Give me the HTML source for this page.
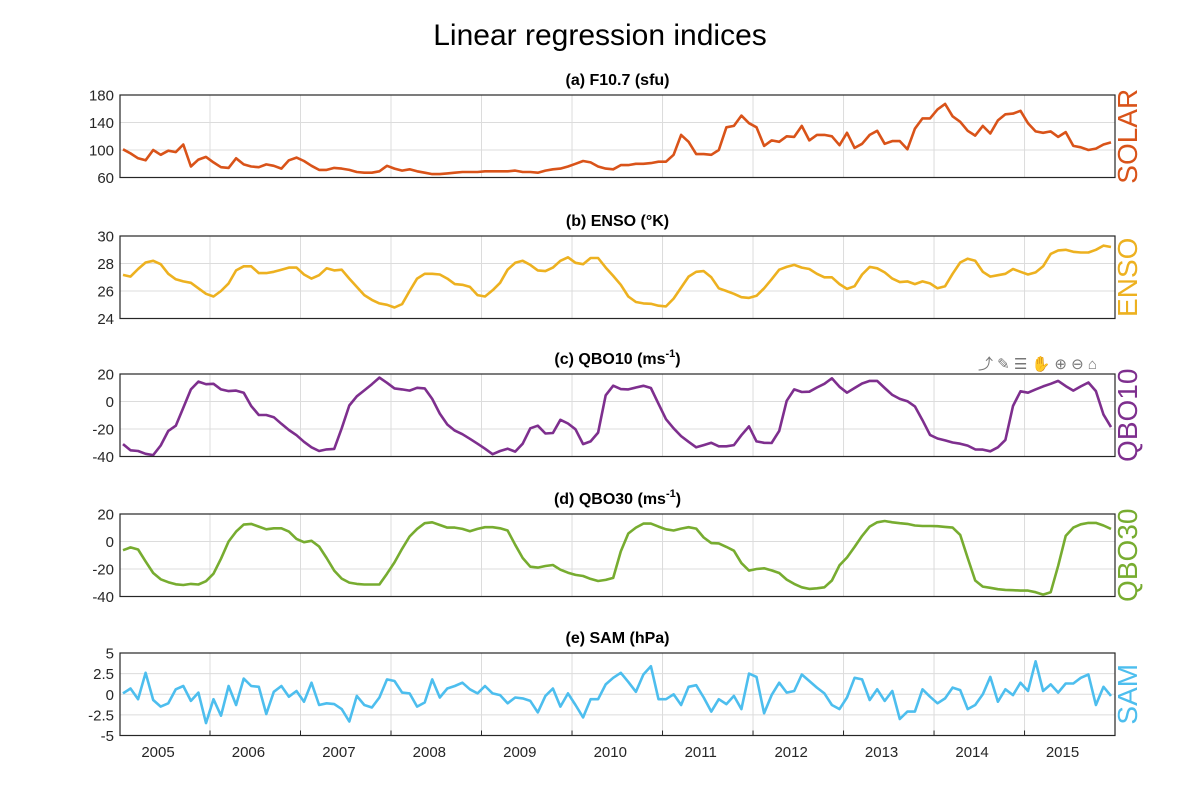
<!DOCTYPE html>
<html><head><meta charset="utf-8"><style>
html,body{margin:0;padding:0;background:#fff;}
svg{display:block;font-family:"Liberation Sans",Arial,sans-serif;}
</style></head><body>
<svg id="fig" width="1200" height="800" viewBox="0 0 1200 800" xmlns="http://www.w3.org/2000/svg">
<rect width="1200" height="800" fill="#fff"/>
<text x="600" y="45" font-size="30" text-anchor="middle" fill="#000">Linear regression indices</text>
<g fill="#777" font-size="15">
<text x="978" y="369">⤴ ✎ ☰ ✋ ⊕ ⊖ ⌂</text>
</g>
</svg>
<script>
const years = ["2005","2006","2007","2008","2009","2010","2011","2012","2013","2014","2015"];
const solar = [101,95,88,85,100,93,99,97,108,76,86,90,82,75,74,88,79,76,75,79,77,73,85,89,84,77,71,71,74,73,71,68,67,67,69,77,73,70,72,69,67,65,65,66,67,68,68,68,69,69,69,69,70,68,68,67,70,72,73,76,80,84,82,76,73,72,78,78,80,80,81,83,83,93,122,112,94,94,93,100,133,135,150,139,133,106,114,112,120,119,135,114,122,122,120,107,125,103,109,122,128,109,113,113,101,131,146,146,159,167,149,141,128,121,135,124,143,152,153,157,139,127,125,127,119,126,106,104,100,102,108,111];
const enso = [27.17,27.05,27.6,28.07,28.2,27.95,27.25,26.85,26.7,26.6,26.2,25.8,25.6,26.0,26.55,27.5,27.8,27.8,27.3,27.3,27.4,27.55,27.7,27.7,27.2,26.9,27.15,27.65,27.5,27.55,26.9,26.3,25.7,25.35,25.1,25.0,24.8,25.05,26.0,26.9,27.25,27.25,27.2,26.9,26.5,26.45,26.3,25.7,25.6,26.05,26.6,27.55,28.05,28.2,27.9,27.5,27.45,27.7,28.2,28.45,28.05,27.95,28.4,28.4,27.7,27.1,26.45,25.6,25.2,25.1,25.07,24.93,24.88,25.45,26.25,27.05,27.4,27.45,27.0,26.2,26.0,25.8,25.55,25.5,25.65,26.2,26.85,27.55,27.75,27.9,27.7,27.6,27.25,27.0,27.0,26.5,26.15,26.35,27.2,27.75,27.65,27.35,26.9,26.65,26.7,26.5,26.7,26.55,26.2,26.35,27.25,28.07,28.35,28.2,27.4,27.05,27.15,27.25,27.6,27.4,27.2,27.35,27.8,28.7,28.95,29.0,28.85,28.8,28.8,29.0,29.3,29.2];
const qbo10 = [-31,-35.5,-36,-38,-39,-32,-21.4,-17.6,-4.5,8.8,14.5,12.6,12.9,8.8,7.6,7.9,6.4,-3.3,-9.8,-9.8,-11.4,-16.2,-20.7,-24.5,-29.3,-33.3,-36,-34.8,-34.5,-19.5,-2.9,3.8,8.1,12.6,17.4,13.6,9.5,8.8,7.9,10,9.5,1.9,-8.8,-16.7,-21.2,-23.8,-27.1,-30.7,-34.3,-38.3,-36,-34.3,-36.4,-30.7,-19.5,-17.6,-23.3,-22.9,-13.3,-16,-20.2,-31,-29,-22.6,4.5,11.5,9,8.8,10.2,11.4,9.8,-1.7,-12.9,-19.5,-25.2,-29.3,-33.3,-31.7,-30,-32.6,-32.6,-31.7,-24.5,-18.1,-29,-30,-30.2,-21.4,0.5,8.8,6.9,7.1,10.2,12.9,16.9,10.7,6.4,9.8,13.1,15,15,9.8,4.8,1.9,0.2,-3.6,-13.6,-24.3,-26.9,-28.3,-29.8,-30.7,-32.1,-34.8,-35,-36.2,-33.3,-27.9,-3.3,7.4,6.4,8.8,11,12.9,15,11.2,7.9,11,13.8,7.6,-9.5,-18.6];
const qbo30 = [-6.3,-4.3,-5.8,-14.5,-22.9,-27.5,-29.6,-31.1,-31.6,-30.8,-31.3,-28.9,-23.4,-12.5,0,7.2,12.3,12.8,10.8,8.9,9.6,9.6,7.2,1.9,-0.5,0.5,-3.6,-12,-21.2,-27,-29.9,-30.8,-31.3,-31.3,-31.3,-23.4,-15.2,-5.3,3.6,9.2,13.3,14,12,10.1,10.1,9.2,7.5,9.2,10.4,10.4,9.6,8,-2.4,-12,-18.3,-19,-17.8,-17.1,-20.5,-22.7,-24.3,-25.1,-27.2,-28.7,-27.9,-26.5,-7.2,5.8,10.1,13,13,10.8,8.9,8,9.4,10.4,9.4,2.9,-1.2,-1.4,-3.9,-6.7,-15.7,-21.2,-20,-19.5,-21,-22.9,-27.7,-30.8,-33.3,-34.5,-34,-33.3,-28.4,-17.3,-11.6,-3.9,4.1,10.8,14,14.9,14,13.3,12.8,11.6,11.3,11.3,11.1,10.6,10.1,4.8,-12,-28.4,-32.8,-33.7,-34.7,-35.2,-35.4,-35.7,-35.7,-36.9,-38.6,-36.9,-17.6,4.1,10.1,12.5,13.5,13.5,11.6,9.2];
const sam = [0.1,0.7,-0.6,2.6,-0.7,-1.5,-1.1,0.6,1.0,-0.8,0.2,-3.5,-0.6,-2.6,1.0,-1.3,1.9,1.0,0.9,-2.4,0.3,1.0,-0.3,0.4,-0.9,1.4,-1.3,-1.1,-1.2,-1.8,-3.3,-0.2,-1.3,-1.6,-0.4,1.8,1.6,0.2,0.1,-1.5,-1.0,1.8,-0.4,0.7,1.0,1.4,0.6,0.1,1.0,0.1,-0.1,-1.1,-0.4,-0.5,-0.8,-2.2,-0.2,0.7,-1.5,0.1,-1.3,-2.8,-0.6,-0.6,1.2,2.0,2.6,1.5,0.3,2.4,3.4,-0.6,-0.6,0,-1.3,0.9,1.1,-0.4,-2.1,-0.6,-1.2,-0.2,-1.8,2.5,2.1,-2.3,-0.1,1.4,0.2,0.4,2.4,1.6,0.8,0.1,-1.3,-1.8,-0.4,2.0,1.8,-0.7,0.6,-0.8,0.4,-3.0,-2.1,-2.1,0.6,-0.3,-1.1,-0.5,0.8,0.5,-1.8,-1.3,0,2.1,-0.9,0.6,-0.1,1.4,0.4,4.0,0.4,1.2,0.2,1.3,1.3,2.0,2.4,-1.3,0.9,-0.2];

const panelTitles = ["(a) F10.7 (sfu)","(b) ENSO (°K)","(c) QBO10 (ms","(d) QBO30 (ms","(e) SAM (hPa)"];
const sideLabels = ["SOLAR","ENSO","QBO10","QBO30","SAM"];
const yMins = [60,24,-40,-40,-5];
const yMaxs = [180,30,20,20,5];
const yTicks = [[60,100,140,180],[24,26,28,30],[-40,-20,0,20],[-40,-20,0,20],[-5,-2.5,0,2.5,5]];
const seriesList = [solar,enso,qbo10,qbo30,sam];
const colors = ["#D95319","#EDB120","#7E2F8E","#77AC30","#4DBEEE"];
const names = ["solar","enso","qbo10","qbo30","sam"];

const NS="http://www.w3.org/2000/svg";
const svg=document.getElementById('fig');
const L=120,R=1115,tops=[95,236,374,514,653],H=82.5;
function mk(tag,attrs,parent){const e=document.createElementNS(NS,tag);for(const k in attrs)e.setAttribute(k,attrs[k]);(parent||svg).appendChild(e);return e;}
const nMonths=132;
function xAt(i){return 123+i*(1111-123)/(nMonths-1);}
function yearX(k){return L+k*12*(1111-123)/(nMonths-1)*1.0+ (xAt(0)-L);}

for(let p=0;p<5;p++){
  const top=tops[p],bot=top+H;
  const yS=v=>bot-(v-yMins[p])/(yMaxs[p]-yMins[p])*H;
  const g=mk('g',{});
  
  
  // grid
  for(let k=1;k<=10;k++){
    const gx=xAt(k*12)-3.5;
    const gl=mk('line',{x1:gx,x2:gx,y1:top,y2:bot,stroke:'#dcdcdc','stroke-width':1},g);
    
    
    if(p===4){const tk=mk('line',{x1:gx,x2:gx,y1:bot,y2:bot-5,stroke:'#262626','stroke-width':1},g);
      }
  }
  yTicks[p].forEach(v=>{
    const yy=yS(v);
    if(v!==yMins[p]&&v!==yMaxs[p]){const gl=mk('line',{x1:L,x2:R,y1:yy,y2:yy,stroke:'#dcdcdc','stroke-width':1},g);
      }
    const tl=mk('text',{x:L-6,y:yy+5.5,'font-size':15,'text-anchor':'end',fill:'#262626'},g);
    tl.textContent=String(v);
    
    
  });
  // line
  const pts=seriesList[p].map((v,i)=>xAt(i).toFixed(1)+','+yS(v).toFixed(1)).join(' ');
  const pl=mk('polyline',{points:pts,fill:'none',stroke:colors[p],'stroke-width':2.6,'stroke-linejoin':'round'},g);
  
  
  const box=mk('rect',{x:L,y:top,width:R-L,height:H,fill:'none',stroke:'#262626','stroke-width':1.2},g);
  
  
  // title
  const t=mk('text',{x:(L+R)/2,y:top-10,'font-size':16,'font-weight':'bold','text-anchor':'middle',fill:'#000'},g);
  
  
  t.textContent=panelTitles[p];
  if(p===2||p===3){
    const sp=mk('tspan',{'font-size':11,dy:-7},t);sp.textContent='-1';
    const sp2=mk('tspan',{dy:7},t);sp2.textContent=')';
  }
  const cy=top+H/2;
  const sl=mk('text',{x:1137,y:cy,'font-size':28,'text-anchor':'middle',fill:colors[p],transform:'rotate(-90 1137 '+cy+')'},g);
  
  
  sl.textContent=sideLabels[p];
}
years.forEach((y,k)=>{
  const lx=158+k*90.45;
  const t=mk('text',{x:lx,y:757,'font-size':15,'text-anchor':'middle',fill:'#262626'});
  
  
  t.textContent=y;
});
</script>
</body></html>
